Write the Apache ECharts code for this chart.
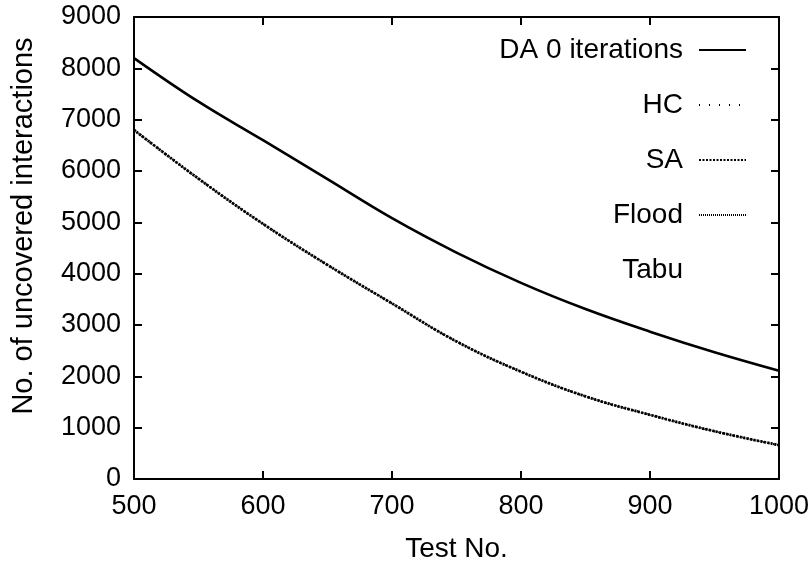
<!DOCTYPE html>
<html>
<head>
<meta charset="utf-8">
<script src="https://cdn.jsdelivr.net/npm/echarts@6/dist/echarts.min.js"></script>
<style>
html,body{margin:0;padding:0;background:#fff;}
#chart{width:810px;height:561px;}
</style>
</head>
<body>
<div id="chart"></div>
<script>
const testNos = [500, 550, 600, 650, 700, 750, 800, 850, 900, 950, 1000];
const da0 = [8200, 7350, 6600, 5840, 5080, 4410, 3820, 3310, 2870, 2470, 2110];
const hc = [6800, 5850, 4970, 4170, 3420, 2680, 2090, 1610, 1250, 930, 660];
const sa = [6800, 5850, 4970, 4170, 3420, 2680, 2090, 1610, 1250, 930, 660];
const flood = [6800, 5850, 4970, 4170, 3420, 2680, 2090, 1610, 1250, 930, 660];
const tabu = [6800, 5850, 4970, 4170, 3420, 2680, 2090, 1610, 1250, 930, 660];
const seriesNames = ['DA 0 iterations', 'HC', 'SA', 'Flood', 'Tabu'];

function pairs(vals) { return testNos.map((x, i) => [x, vals[i]]); }

const FONT = 'Liberation Sans, Arial, Helvetica, sans-serif';
const FS = 27;

const chart = echarts.init(document.getElementById('chart'), null, {renderer: 'canvas'});

const lineStyles = [
  {color: '#000', width: 2.6, type: 'solid'},
  {color: '#000', width: 2, type: [1, 9]},
  {color: '#000', width: 2.8, type: [2, 1.5]},
  {color: '#000', width: 2, type: [1, 1]},
  {color: '#000', width: 2, type: 'solid', opacity: 0}
];
const datasets = [da0, hc, sa, flood, tabu];
const plain = v => String(v);

chart.setOption({
  animation: false,
  backgroundColor: '#fff',
  grid: {left: 134, right: 31, top: 17, bottom: 82, containLabel: false, outerBoundsMode: 'none'},
  legend: {
    orient: 'vertical',
    align: 'right',
    right: 58,
    top: 31,
    itemWidth: 47,
    itemHeight: 10,
    itemGap: 27,
    selectedMode: false,
    data: seriesNames,
    textStyle: {fontFamily: FONT, fontSize: 28, color: '#000', lineHeight: 28, padding: [0, 11, 0, 0]}
  },
  xAxis: [{
    type: 'value', min: 500, max: 1000, interval: 100, position: 'bottom',
    name: 'Test No.', nameLocation: 'middle', nameGap: 56,
    nameTextStyle: {fontFamily: FONT, fontSize: 28, color: '#000'},
    axisLine: {show: true, onZero: false, lineStyle: {color: '#000', width: 2}},
    axisTick: {show: true, inside: true, length: 8, lineStyle: {color: '#000', width: 2}},
    axisLabel: {fontFamily: FONT, fontSize: FS, color: '#000', margin: 14, formatter: plain},
    splitLine: {show: false}
  }, {
    type: 'value', min: 500, max: 1000, interval: 100, position: 'top',
    axisLine: {show: true, onZero: false, lineStyle: {color: '#000', width: 2}},
    axisTick: {show: true, inside: true, length: 8, lineStyle: {color: '#000', width: 2}},
    axisLabel: {show: false}, splitLine: {show: false}
  }],
  yAxis: [{
    type: 'value', min: 0, max: 9000, interval: 1000, position: 'left',
    name: 'No. of uncovered interactions', nameLocation: 'middle', nameGap: 96,
    nameTextStyle: {fontFamily: FONT, fontSize: 29, color: '#000', padding: [0, 0, 0, 44]},
    axisLine: {show: true, onZero: false, lineStyle: {color: '#000', width: 2}},
    axisTick: {show: true, inside: true, length: 8, lineStyle: {color: '#000', width: 2}},
    axisLabel: {fontFamily: FONT, fontSize: FS, color: '#000', margin: 13, formatter: plain},
    splitLine: {show: false}
  }, {
    type: 'value', min: 0, max: 9000, interval: 1000, position: 'right',
    axisLine: {show: true, onZero: false, lineStyle: {color: '#000', width: 2}},
    axisTick: {show: true, inside: true, length: 8, lineStyle: {color: '#000', width: 2}},
    axisLabel: {show: false}, splitLine: {show: false}
  }],
  series: seriesNames.map((name, i) => ({
    name: name,
    type: 'line',
    xAxisIndex: 0, yAxisIndex: 0,
    data: pairs(datasets[i]),
    smooth: 0.4,
    symbol: 'none',
    showSymbol: false,
    itemStyle: {color: '#000', opacity: 0},
    lineStyle: lineStyles[i],
    z: 5 - i
  }))
});
</script>
</body>
</html>
